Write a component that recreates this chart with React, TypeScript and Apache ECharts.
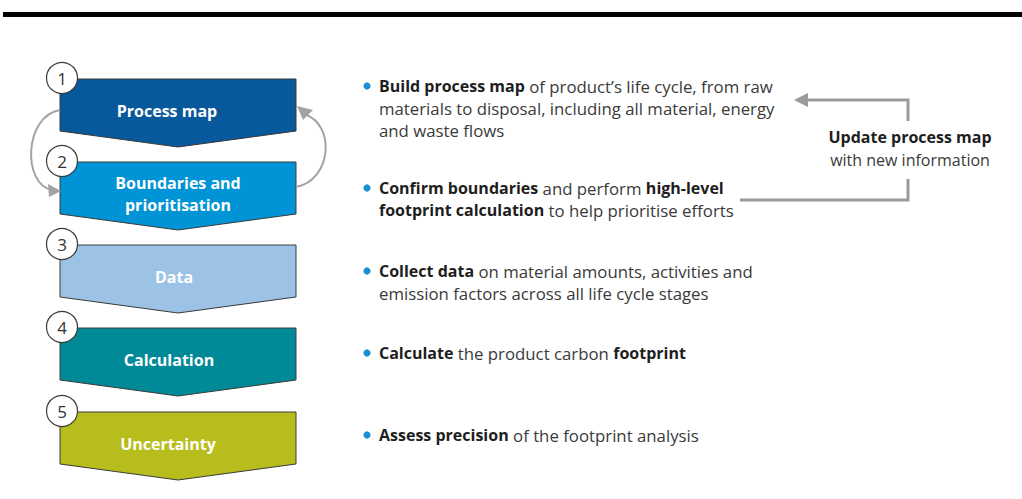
import React, { useEffect, useRef } from "react";
import * as echarts from "echarts";

const stepNumbers = ["1", "2", "3", "4", "5"];
const stepLabels = ["Process map", "Boundaries and\nprioritisation", "Data", "Calculation", "Uncertainty"];
const stepColors = ["#07599b", "#0094d6", "#9cc2e6", "#008a98", "#b6bd1c"];
const descriptions = [
  "{b|Build process map} of product\u2019s life cycle, from raw\nmaterials to disposal, including all material, energy\nand waste flows",
  "{b|Confirm boundaries} and perform {b|high-level}\n{b|footprint calculation} to help prioritise efforts",
  "{b|Collect data} on material amounts, activities and\nemission factors across all life cycle stages",
  "{b|Calculate} the product carbon {b|footprint}",
  "{b|Assess precision} of the footprint analysis",
];
const updateTitle = "Update process map";
const updateSub = "with new information";

// layout
const stepTops = [79, 162, 245, 328, 412];
const labelX = [167, 178, 174, 169, 168];
const descFirstLine = [86, 188, 271, 353, 435];

const FONT = "'Open Sans', Lato, sans-serif";
const DS = 16.8;
const BS = 16;

export default function App() {
  const ref = useRef<HTMLDivElement>(null);
  useEffect(() => {
    if (!ref.current) return;
    const chart = echarts.init(ref.current, undefined, { renderer: "svg" });
    const els: any[] = [];
    // top black rule
    els.push({ type: "rect", shape: { x: 3, y: 12, width: 1019, height: 5 }, style: { fill: "#000" } });

    const L = 60, R = 296, CX = 178;
    stepLabels.forEach((lab, i) => {
      const t = stepTops[i];
      els.push({
        type: "polygon",
        shape: { points: [[L, t], [R, t], [R, t + 52], [CX, t + 68], [L, t + 52]] },
        style: { fill: stepColors[i], stroke: "#3a3a3a", lineWidth: 1 },
      });
      els.push({
        type: "text",
        x: labelX[i],
        y: t + 32,
        style: {
          text: lab,
          fill: "#ffffff",
          font: `bold 16px ${FONT}`,
          align: "center",
          verticalAlign: "middle",
          lineHeight: 22,
        },
        z: 5,
      });
      els.push({
        type: "circle",
        shape: { cx: 62, cy: t - 1, r: 15.5 },
        style: { fill: "#ffffff", stroke: "#3a3a3a", lineWidth: 1.2 },
        z: 6,
      });
      els.push({
        type: "text",
        x: 62,
        y: t - 1,
        style: {
          text: stepNumbers[i],
          fill: "#333",
          font: `17px ${FONT}`,
          align: "center",
          verticalAlign: "middle",
        },
        z: 7,
      });
    });

    // curved arrows between step 1 and 2
    const grey = "#a3a3a3";
    els.push({
      type: "bezierCurve",
      shape: { x1: 60, y1: 110, cpx1: 24, cpy1: 116, cpx2: 22, cpy2: 184, x2: 52, y2: 190 },
      style: { stroke: grey, lineWidth: 2, fill: "none" },
      z: 1,
    });
    els.push({ type: "polygon", shape: { points: [[61, 191], [48, 184], [49, 197]] }, style: { fill: grey }, z: 8 });
    els.push({
      type: "bezierCurve",
      shape: { x1: 296, y1: 187, cpx1: 332, cpy1: 180, cpx2: 336, cpy2: 124, x2: 304, y2: 114 },
      style: { stroke: grey, lineWidth: 2, fill: "none" },
      z: 1,
    });
    els.push({ type: "polygon", shape: { points: [[297, 106], [303, 120], [313, 110]] }, style: { fill: grey }, z: 8 });

    // descriptions
    descriptions.forEach((d, i) => {
      const y0 = descFirstLine[i];
      els.push({ type: "circle", shape: { cx: 367, cy: y0, r: 3.6 }, style: { fill: "#1b8fd6" } });
      els.push({
        type: "text",
        x: 379,
        y: y0 - 11,
        style: {
          text: d,
          fill: "#3a3a3a",
          font: `${DS}px ${FONT}`,
          align: "left",
          verticalAlign: "top",
          lineHeight: 22,
          rich: {
            b: { fontWeight: "bold", fill: "#1e1e1e", fontSize: BS, fontFamily: FONT, lineHeight: 22 },
          },
        },
      });
    });

    // update loop bracket
    const g2 = "#9a9a9a";
    els.push({
      type: "polyline",
      shape: { points: [[908, 121], [908, 100], [806, 100]] },
      style: { stroke: g2, lineWidth: 3, fill: "none" },
    });
    els.push({ type: "polygon", shape: { points: [[794, 100], [808, 93], [808, 107]] }, style: { fill: g2 } });
    els.push({
      type: "polyline",
      shape: { points: [[908, 179], [908, 200], [740, 200]] },
      style: { stroke: g2, lineWidth: 3, fill: "none" },
    });
    els.push({
      type: "text",
      x: 910,
      y: 137,
      style: { text: updateTitle, fill: "#1e1e1e", font: `bold 16px ${FONT}`, align: "center", verticalAlign: "middle" },
    });
    els.push({
      type: "text",
      x: 910,
      y: 160,
      style: { text: updateSub, fill: "#3a3a3a", font: `16px ${FONT}`, align: "center", verticalAlign: "middle" },
    });

    chart.setOption({ animation: false, graphic: { elements: els } });
    return () => chart.dispose();
  }, []);
  return (
    <div
      ref={ref}
      style={{ position: "fixed", left: 0, top: 0, width: 1022, height: 499, background: "#fff" }}
    />
  );
}
